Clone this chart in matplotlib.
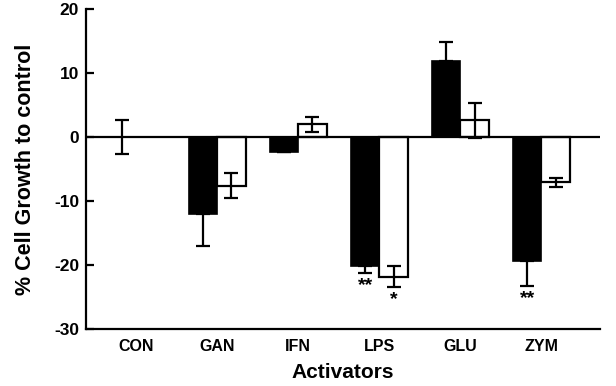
import matplotlib
matplotlib.use("Agg")
import matplotlib.pyplot as plt
import numpy as np

plt.rcParams['font.family'] = ['Liberation Sans', 'DejaVu Sans']
plt.rcParams['font.weight'] = 'bold'

categories = ["CON", "GAN", "IFN", "LPS", "GLU", "ZYM"]
black_vals = [0.0, -12.1, -2.3, -20.2, 11.8, -19.3]
black_err = [2.7, 5.0, 0.0, 1.1, 3.0, 4.0]
white_vals = [np.nan, -7.6, 2.0, -21.8, 2.6, -7.1]
white_err = [np.nan, 2.0, 1.2, 1.7, 2.7, 0.7]
black_stars = ["", "", "", "**", "", "**"]
white_stars = ["", "", "", "*", "", ""]
y_ticks = [-30, -20, -10, 0, 10, 20]

fig = plt.figure(figsize=(6.16, 3.86), dpi=100)
ax = fig.add_axes([0.1396, 0.1477, 0.834, 0.829])

x = np.arange(len(categories))
w = 0.35
bv = np.array(black_vals)
be = np.array(black_err)
wv = np.array(white_vals)
we = np.array(white_err)

# black bars: error only outward (CON symmetric)
b_lower = np.where(bv < 0, be, 0.0)
b_upper = np.where(bv > 0, be, 0.0)
b_lower[0] = be[0]
b_upper[0] = be[0]

ax.bar(x - w / 2, bv, width=w, color='black', edgecolor='black', linewidth=1.2, zorder=2)
ax.errorbar(x - w / 2, bv, yerr=[b_lower, b_upper], fmt='none', ecolor='black',
            elinewidth=1.6, capsize=4.7, capthick=1.6, zorder=3)

mask = ~np.isnan(wv)
ax.bar(x[mask] + w / 2, wv[mask], width=w, color='white', edgecolor='black', linewidth=1.6, zorder=2)
ax.errorbar(x[mask] + w / 2, wv[mask], yerr=we[mask], fmt='none', ecolor='black',
            elinewidth=1.6, capsize=4.7, capthick=1.6, zorder=3)

ax.axhline(0, color='black', linewidth=1.6, zorder=4)

for i in range(len(categories)):
    if black_stars[i]:
        ax.text(x[i] - w / 2, bv[i] - be[i] - 0.6, black_stars[i], ha='center', va='top',
                fontsize=14, fontweight='bold')
    if white_stars[i]:
        ax.text(x[i] + w / 2, wv[i] - we[i] - 0.5, white_stars[i], ha='center', va='top',
                fontsize=14, fontweight='bold')

ax.set_xlim(-0.62, 5.72)
ax.set_ylim(-30, 20)
ax.set_yticks(y_ticks)
ax.set_yticklabels([str(t) for t in y_ticks], fontsize=12.5, fontweight='bold')
ax.set_xticks(x)
ax.set_xticklabels(categories, fontsize=11.5, fontweight='bold')
ax.tick_params(axis='y', direction='in', length=6, width=1.6, pad=5)
ax.tick_params(axis='x', length=0, pad=7)

for s in ['top', 'right']:
    ax.spines[s].set_visible(False)
for s in ['left', 'bottom']:
    ax.spines[s].set_linewidth(1.6)

ax.set_ylabel('% Cell Growth to control', fontsize=15.5, fontweight='bold', labelpad=13)
ax.set_xlabel('Activators', fontsize=15, fontweight='bold', labelpad=7)

fig.savefig('out.png', dpi=100)
